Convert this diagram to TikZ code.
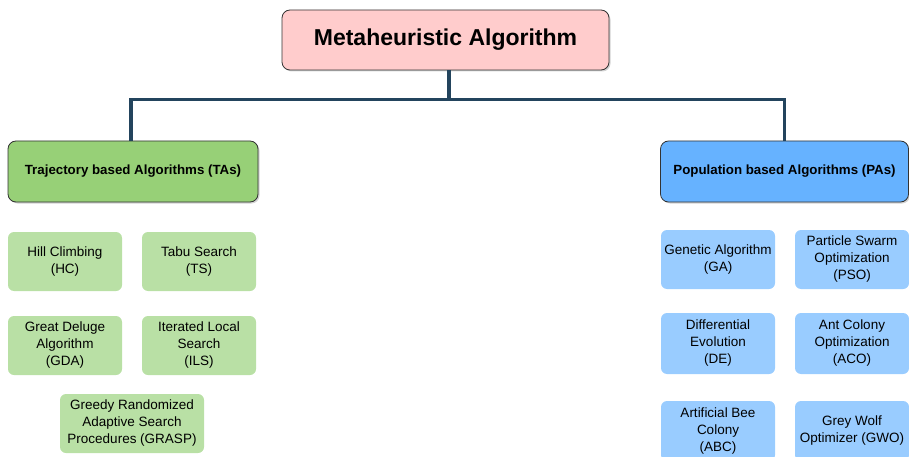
\documentclass[tikz,border=0pt]{standalone}
\usepackage{fontspec}
\setmainfont{Liberation Sans}
\usetikzlibrary{shadows}
\definecolor{rootpink}{HTML}{FFCCCC}
\definecolor{tagreen}{HTML}{97D077}
\definecolor{pablue}{HTML}{66B2FF}
\definecolor{leafgreen}{HTML}{B9E0A5}
\definecolor{leafblue}{HTML}{99CCFF}
\definecolor{linknavy}{HTML}{23445D}
\begin{document}
\begin{tikzpicture}[x=1pt, y=-1pt,
    head/.style={draw=black!80, line width=0.8pt, rounded corners=8pt, align=center,
      font=\bfseries\fontsize{13.3}{16}\selectfont, drop shadow={shadow xshift=1.5pt, shadow yshift=-1.5pt, opacity=0.35}},
    leaf/.style={rounded corners=6pt, align=center, minimum width=114pt, minimum height=59pt,
      inner sep=1pt, font=\fontsize{13.5}{17}\selectfont},
    link/.style={draw=linknavy, line width=3.5pt}]
  \useasboundingbox (0,0) rectangle (909,457);
  \clip (0,0) rectangle (909,457);
      \node (root) at (445.5,40) [head, fill=rootpink, minimum width=327pt, minimum height=60pt,
        font=\bfseries\fontsize{23}{26}\selectfont] {Metaheuristic Algorithm};
      \node (ta) at (133,171.5) [head, fill=tagreen, minimum width=250pt, minimum height=61pt] {Trajectory based Algorithms (TAs)};
      \node (pa) at (784.5,171.5) [head, fill=pablue, minimum width=248pt, minimum height=61pt] {Population based Algorithms (PAs)};

      % trajectory based
      \node (hc) at (65,261.5) [leaf, fill=leafgreen] {Hill Climbing\\(HC)};
      \node (ts) at (199,261.5) [leaf, fill=leafgreen] {Tabu Search\\(TS)};
      \node (gda) at (65,345.5) [leaf, fill=leafgreen] {Great Deluge\\Algorithm\\(GDA)};
      \node (ils) at (199,345.5) [leaf, fill=leafgreen] {Iterated Local\\Search\\(ILS)};
      \node (grasp) at (132,423.5) [leaf, fill=leafgreen, minimum width=144pt] {Greedy Randomized\\Adaptive Search\\Procedures (GRASP)};

      % population based
      \node (ga) at (718,259.5) [leaf, fill=leafblue] {Genetic Algorithm\\(GA)};
      \node (pso) at (852,259.5) [leaf, fill=leafblue] {Particle Swarm\\Optimization\\(PSO)};
      \node (de) at (718,343.5) [leaf, fill=leafblue, minimum height=61pt] {Differential\\Evolution\\(DE)};
      \node (aco) at (852,343.5) [leaf, fill=leafblue, minimum height=61pt] {Ant Colony\\Optimization\\(ACO)};
      \node (abc) at (718,431) [leaf, fill=leafblue, minimum height=60pt] {Artificial Bee\\Colony\\(ABC)};
      \node (gwo) at (852,431) [leaf, fill=leafblue, minimum height=60pt] {Grey Wolf\\Optimizer (GWO)};

      \draw[link] ([xshift=3.5pt]root.south) -- ++(0,29) -| ([xshift=-2pt]ta.north);
      \draw[link] ([xshift=3.5pt]root.south) -- ++(0,29) -| (pa.north);
    \end{tikzpicture}
\end{document}
